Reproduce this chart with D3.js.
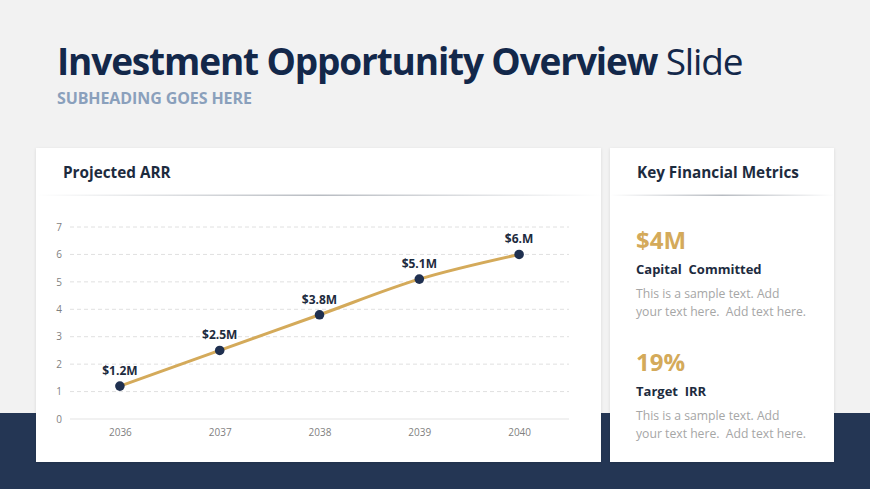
<!DOCTYPE html>
<html>
<head>
<meta charset="utf-8">
<script src="https://cdn.jsdelivr.net/npm/d3@7"></script>
<style>
  html, body { margin: 0; padding: 0; background: #f2f2f2; }
  svg { display: block; font-family: "Open Sans", "Noto Sans", sans-serif; }
</style>
</head>
<body>
<svg id="slide" width="870" height="489"></svg>
<script>
// chart data
var years = ['2036', '2037', '2038', '2039', '2040'];
var arr = [1.2, 2.5, 3.8, 5.1, 6.0];
var arrLabels = ['$1.2M', '$2.5M', '$3.8M', '$5.1M', '$6.M'];
var yTicks = [0, 1, 2, 3, 4, 5, 6, 7];

// side panel metrics
var metricValues = ['$4M', '19%'];
var metricNames = ['Capital  Committed', 'Target  IRR'];
var metricText = ['This is a sample text. Add', 'your text here.  Add text here.'];

var gold = '#d4aa5a';
var svg = d3.select('#slide');

var defs = svg.append('defs');
var grad = defs.append('linearGradient').attr('id', 'sep');
grad.append('stop').attr('offset', '0%').attr('stop-color', '#fff');
grad.append('stop').attr('offset', '50%').attr('stop-color', '#b8bcc2');
grad.append('stop').attr('offset', '100%').attr('stop-color', '#fff');
var sh = defs.append('filter').attr('id', 'shadow').attr('x', '-5%').attr('y', '-5%').attr('width', '110%').attr('height', '110%');
sh.append('feDropShadow').attr('dx', 0).attr('dy', 1).attr('stdDeviation', 1.5).attr('flood-color', '#000').attr('flood-opacity', 0.12);

svg.append('rect').attr('x', 0).attr('y', 0).attr('width', 870).attr('height', 489).attr('fill', '#f2f2f2');
svg.append('rect').attr('x', 0).attr('y', 413).attr('width', 870).attr('height', 76).attr('fill', '#243654');

// heading
var title = svg.append('text').attr('x', 57).attr('y', 75).attr('font-size', 37).attr('fill', '#13284a')
  .attr('letter-spacing', -1.15);
title.append('tspan').attr('font-weight', 700).text('Investment Opportunity Overview');
title.append('tspan').attr('font-weight', 400).text(' Slide');
svg.append('text').attr('x', 57).attr('y', 104).attr('font-size', 16).attr('font-weight', 700)
  .attr('fill', '#8aa0bc').attr('letter-spacing', -0.1).text('SUBHEADING GOES HERE');

// cards
var cards = [
  {x: 36, w: 565, title: 'Projected ARR'},
  {x: 610, w: 224, title: 'Key Financial Metrics'}
];
cards.forEach(function(c) {
  svg.append('rect').attr('x', c.x).attr('y', 148).attr('width', c.w).attr('height', 314)
    .attr('fill', '#fff').attr('filter', 'url(#shadow)');
  svg.append('rect').attr('x', c.x).attr('y', 194.5).attr('width', c.w).attr('height', 1.5).attr('fill', 'url(#sep)');
  svg.append('text').attr('x', c.x + 27).attr('y', 178).attr('font-size', 15.3).attr('font-weight', 700)
    .attr('fill', '#1d2b3e').text(c.title);
});

// line chart
var x = d3.scalePoint().domain(years).range([70, 569]).padding(0.5);
var y = d3.scaleLinear().domain([0, 7]).range([419, 227]);
var plot = svg.append('g');

plot.append('g').selectAll('line').data(yTicks).enter().append('line')
  .attr('x1', 70).attr('x2', 569)
  .attr('y1', function(d) { return y(d); }).attr('y2', function(d) { return y(d); })
  .attr('stroke', function(d) { return d === 0 ? '#e3e3e3' : '#e0e0e0'; })
  .attr('stroke-dasharray', function(d) { return d === 0 ? null : '4,3'; });

var yAxis = plot.append('g').attr('transform', 'translate(62,0)')
  .call(d3.axisLeft(y).tickValues(yTicks).tickFormat(d3.format('d')).tickSize(0).tickPadding(0));
var xAxis = plot.append('g').attr('transform', 'translate(0,419)')
  .call(d3.axisBottom(x).tickSize(0).tickPadding(10));
[yAxis, xAxis].forEach(function(a) {
  a.select('.domain').remove();
  a.selectAll('text').attr('font-family', '"Open Sans", sans-serif').attr('font-size', 10).attr('fill', '#7f7f7f');
});

var pts = years.map(function(yr, i) { return {year: yr, v: arr[i], label: arrLabels[i]}; });
var line = d3.line().x(function(d) { return x(d.year); }).y(function(d) { return y(d.v); }).curve(d3.curveMonotoneX);
plot.append('path').datum(pts).attr('d', line).attr('fill', 'none').attr('stroke', gold)
  .attr('stroke-width', 3).attr('stroke-linecap', 'round');
plot.selectAll('circle').data(pts).enter().append('circle')
  .attr('cx', function(d) { return x(d.year); }).attr('cy', function(d) { return y(d.v); })
  .attr('r', 4.8).attr('fill', '#1f3050');
plot.selectAll('.lbl').data(pts).enter().append('text').attr('class', 'lbl')
  .attr('x', function(d) { return x(d.year); }).attr('y', function(d) { return y(d.v) - 11; })
  .attr('text-anchor', 'middle').attr('font-size', 12).attr('font-weight', 700).attr('fill', '#1d2b3e')
  .text(function(d) { return d.label; });

// metrics
var mg = svg.append('g').selectAll('g').data(metricValues).enter().append('g')
  .attr('transform', function(d, i) { return 'translate(636,' + (i * 122) + ')'; });
mg.append('text').attr('y', 249).attr('font-size', 24).attr('font-weight', 700).attr('fill', gold)
  .text(function(d) { return d; });
mg.append('text').attr('y', 274).attr('font-size', 13).attr('font-weight', 700).attr('fill', '#1d2b3e')
  .attr('xml:space', 'preserve').text(function(d, i) { return metricNames[i]; });
mg.selectAll('.desc').data(metricText).enter().append('text').attr('class', 'desc')
  .attr('y', function(d, j) { return 298 + j * 17.5; }).attr('font-size', 12.2).attr('fill', '#a6a6a6')
  .attr('xml:space', 'preserve').text(function(d) { return d; });
</script>
</body>
</html>
